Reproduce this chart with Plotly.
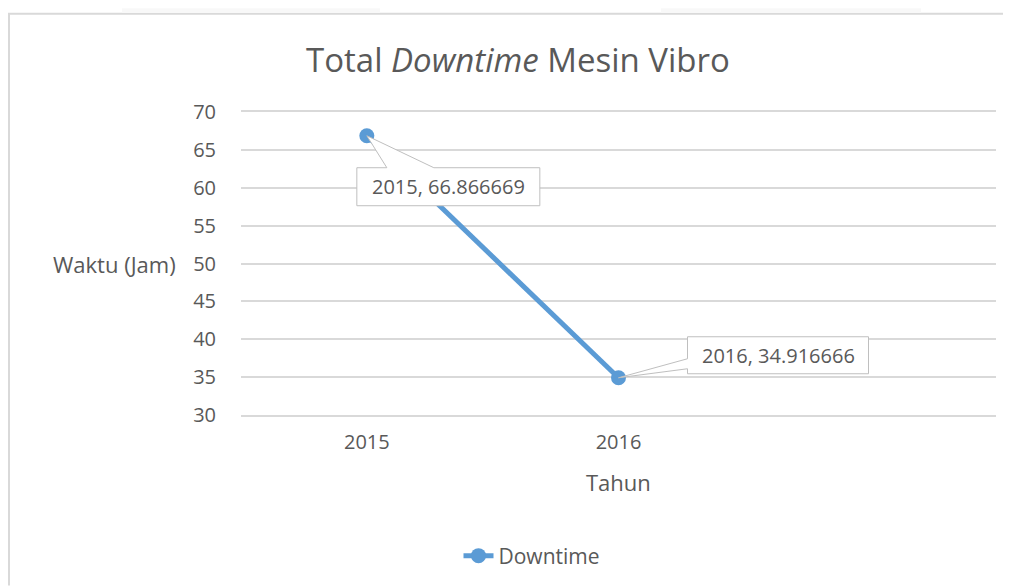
import plotly.graph_objects as go

years = ["2015", "2016"]
downtime = [66.866669, 34.916666]
label_text = ["2015, 66.866669", "2016, 34.916666"]
series_name = "Downtime"
title_plain = "Total "
title_italic = "Downtime"
title_rest = " Mesin Vibro"
x_title = "Tahun"
y_title = "Waktu (Jam)"

OFF = 8  # page body margin
W, H = 1011 - OFF, 587 - OFF
L, R, T, B = 241 - OFF, 15, 112 - OFF, 171
pw, ph = W - L - R, H - T - B

def px(xp):
    return (xp - OFF - L) / pw

def py(yp):
    return (H - B - (yp - OFF)) / ph

TXT = "#595959"
BLUE = "#5b9bd5"
GRID = "#d9d9d9"
FONT = "Open Sans"

xs = list(range(len(years)))

fig = go.Figure()
fig.add_trace(go.Scatter(
    x=xs, y=downtime, mode="lines+markers", name=series_name,
    line=dict(color=BLUE, width=5),
    marker=dict(color=BLUE, size=15, line=dict(width=0)),
    hoverinfo="skip",
))

# callout boxes (pixel offsets relative to data points)
callouts = [
    dict(path="M 0,0 L 20,-32 L -10,-32 L -10,-70 L 173,-70 L 173,-32 L 67,-32 Z", tx=81.5, ty=-51),
    dict(path="M 0,0 L 69,9 L 69,4 L 250,4 L 250,41 L 69,41 L 69,19 Z", tx=159.5, ty=22.5),
]
shapes = []
annotations = []
for i, c in enumerate(callouts):
    shapes.append(dict(
        type="path", xref="x", yref="y", xsizemode="pixel", ysizemode="pixel",
        xanchor=xs[i], yanchor=downtime[i], path=c["path"],
        fillcolor="white", line=dict(color="#bfbfbf", width=1), layer="above",
    ))
    annotations.append(dict(
        x=xs[i], y=downtime[i], xref="x", yref="y", text=label_text[i],
        showarrow=False, xshift=c["tx"], yshift=c["ty"],
        font=dict(family=FONT, size=20, color=TXT),
    ))

# chart border (page frame)
shapes.append(dict(type="line", xref="paper", yref="paper", x0=px(8), x1=px(1011),
                   y0=py(13.5), y1=py(13.5), line=dict(color="#d9d9d9", width=2), layer="below"))
shapes.append(dict(type="line", xref="paper", yref="paper", x0=px(9), x1=px(9),
                   y0=py(13.5), y1=py(587), line=dict(color="#d9d9d9", width=2), layer="below"))
# faint page blocks above the frame
for a, b in [(122, 380), (661, 921)]:
    shapes.append(dict(type="rect", xref="paper", yref="paper", x0=px(a), x1=px(b),
                       y0=py(8), y1=py(12.5), fillcolor="#f8f8f8", line=dict(width=0), layer="below"))

annotations.append(dict(
    x=px(518), y=py(59), xref="paper", yref="paper", showarrow=False,
    text=f"{title_plain}<i>{title_italic}</i>{title_rest}",
    font=dict(family=FONT, size=33, color=TXT), xanchor="center", yanchor="middle",
))
annotations.append(dict(
    x=0.5, y=py(483), xref="paper", yref="paper", showarrow=False, text=x_title,
    font=dict(family=FONT, size=22, color=TXT), xanchor="center", yanchor="middle",
))
annotations.append(dict(
    x=px(178), y=py(264), xref="paper", yref="paper", showarrow=False, text=y_title,
    font=dict(family=FONT, size=22, color=TXT), xanchor="right", yanchor="middle",
))

fig.update_layout(
    width=W, height=H,
    margin=dict(l=L, r=R, t=T, b=B),
    paper_bgcolor="white", plot_bgcolor="white",
    font=dict(family=FONT, size=20, color=TXT),
    showlegend=True,
    legend=dict(orientation="h", x=px(532), xanchor="center", y=py(556), yanchor="middle",
                font=dict(family=FONT, size=21, color=TXT), bgcolor="rgba(0,0,0,0)"),
    shapes=shapes, annotations=annotations,
    xaxis=dict(range=[-0.5, 2.5], tickvals=xs, ticktext=years, showgrid=False,
               zeroline=False, showline=True, linecolor=GRID, linewidth=1.5, mirror=True,
               ticks="", ticklabelstandoff=8,
               tickfont=dict(family=FONT, size=20, color=TXT), fixedrange=True),
    yaxis=dict(range=[30, 70], dtick=5, tick0=30, showgrid=True, gridcolor=GRID, gridwidth=1.5,
               zeroline=False, showline=False, ticks="", ticklabelstandoff=24,
               tickfont=dict(family=FONT, size=20, color=TXT), fixedrange=True),
)

fig.write_html("out.html")
